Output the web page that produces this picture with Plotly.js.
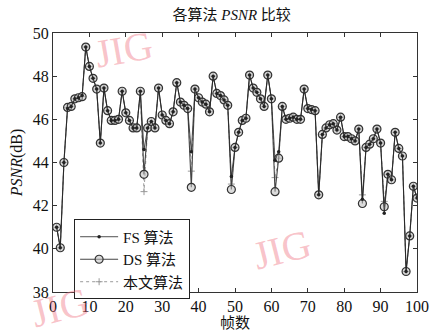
<!DOCTYPE html>
<html>
<head>
<meta charset="utf-8">
<script src="https://cdn.plot.ly/plotly-3.0.1.min.js"></script>
<style>html,body{margin:0;padding:0;background:#fff;}#chart{width:433px;height:335px;}</style>
</head>
<body>
<div id="chart"></div>
<script>
const frames = [1,2,3,4,5,6,7,8,9,10,11,12,13,14,15,16,17,18,19,20,21,22,23,24,25,26,27,28,29,30,31,32,33,34,35,36,37,38,39,40,41,42,43,44,45,46,47,48,49,50,51,52,53,54,55,56,57,58,59,60,61,62,63,64,65,66,67,68,69,70,71,72,73,74,75,76,77,78,79,80,81,82,83,84,85,86,87,88,89,90,91,92,93,94,95,96,97,98,99,100];

const dsPsnr = [41.0,40.05,44.0,46.55,46.6,46.95,47.0,47.05,49.35,48.45,
47.9,47.4,44.9,47.45,46.4,45.95,45.95,46.0,47.3,46.3,
45.95,45.6,45.6,47.3,43.45,45.6,45.9,45.6,47.45,46.2,
45.95,45.8,46.35,47.7,46.8,46.65,46.5,42.85,47.4,47.0,
46.8,46.7,46.35,48.0,47.2,47.1,46.9,46.65,42.75,44.7,
45.4,45.95,46.05,48.05,47.45,47.25,46.95,46.6,48.05,46.95,
42.65,44.2,46.6,46.0,46.05,46.1,46.0,46.0,47.4,46.5,
46.45,46.4,42.5,45.3,45.6,45.75,45.8,45.5,46.1,45.2,
45.2,45.1,45.0,45.55,42.1,44.7,44.85,45.1,45.55,44.9,
41.95,43.45,43.2,45.4,44.65,44.3,38.95,40.6,42.9,42.35];

const fsPsnr = [41.0,40.05,44.0,46.5,46.6,46.95,47.0,47.1,49.35,48.45,
47.9,47.4,44.9,47.45,46.4,45.95,45.95,46.0,47.3,46.3,
45.95,45.6,45.6,47.3,44.6,45.6,45.9,45.6,47.45,46.2,
45.95,45.8,46.35,47.7,46.8,46.65,46.5,44.5,47.4,47.0,
46.8,46.7,46.35,48.0,47.2,47.1,46.9,46.65,43.35,44.7,
45.4,45.95,46.05,48.05,47.45,47.25,46.95,46.6,48.05,46.95,
44.1,44.5,46.6,46.0,46.05,46.1,46.0,46.0,47.4,46.5,
46.45,46.4,42.5,45.3,45.6,45.75,45.8,45.5,46.1,45.2,
45.2,45.1,45.0,45.55,42.3,44.7,44.85,45.1,45.55,44.9,
41.65,43.45,43.2,45.4,44.65,44.3,38.95,40.6,42.9,42.35];

const oursPsnr = [41.0,40.05,44.0,46.55,46.6,46.95,47.0,47.05,49.35,48.45,
47.9,47.4,44.9,47.45,46.4,45.95,45.95,46.0,47.3,46.3,
45.95,45.6,45.6,47.3,42.65,45.6,45.9,45.6,47.45,46.2,
45.95,45.8,46.35,47.7,46.8,46.65,46.5,43.6,47.4,47.0,
46.8,46.7,46.35,48.0,47.2,47.1,46.9,46.65,43.0,44.7,
45.4,45.95,46.05,48.05,47.45,47.25,46.95,46.6,48.05,46.95,
43.3,44.2,46.6,46.0,46.05,46.1,46.0,46.0,47.4,46.5,
46.45,46.4,42.5,45.3,45.6,45.75,45.8,45.5,46.1,45.2,
45.2,45.1,45.0,45.55,42.5,44.7,44.85,45.1,45.55,44.9,
42.2,43.45,43.2,45.4,44.65,44.3,38.95,40.6,42.9,42.35];

const seriesNames = ['FS 算法', 'DS 算法', '本文算法'];
const xTickVals = [0,10,20,30,40,50,60,70,80,90,100];
const yTickVals = [38,40,42,44,46,48,50];

const serif = '"Liberation Serif", "Times New Roman", "Noto Sans CJK SC", serif';

const traces = [
  {
    x: frames, y: oursPsnr, name: seriesNames[2], type: 'scatter', mode: 'lines+markers',
    line: {color: '#9a9a9a', width: 1, dash: 'dot'},
    marker: {symbol: 'cross-thin-open', size: 5, line: {color: '#9a9a9a', width: 1}}
  },
  {
    x: frames, y: dsPsnr, name: seriesNames[1], type: 'scatter', mode: 'lines+markers',
    line: {color: '#444', width: 1.1},
    marker: {symbol: 'circle', size: 8, color: 'rgba(190,190,190,0.55)', line: {color: '#333', width: 1.2}}
  },
  {
    x: frames, y: fsPsnr, name: seriesNames[0], type: 'scatter', mode: 'lines+markers',
    line: {color: '#222', width: 0.8},
    marker: {symbol: 'circle', size: 3.5, color: '#222'}
  }
];

const wm = 'rgba(240,110,125,0.42)';
const layout = {
  width: 433, height: 335,
  margin: {l: 53, r: 16, t: 33, b: 43},
  paper_bgcolor: '#fff', plot_bgcolor: '#fff',
  font: {family: serif, color: '#111', size: 16},
  title: {text: '各算法 <i>PSNR</i> 比较', font: {family: serif, size: 15, color: '#111'}, x: 0.535, xanchor: 'center', y: 0.955, yanchor: 'middle'},
  showlegend: true,
  legend: {
    x: 0.058, y: 0.28, xanchor: 'left', yanchor: 'top',
    bordercolor: '#222', borderwidth: 1, bgcolor: '#fff',
    traceorder: 'reversed', font: {family: serif, size: 15, color: '#111'},
    itemwidth: 38, tracegroupgap: 0
  },
  xaxis: {
    range: [0, 100], tickvals: xTickVals, ticks: 'inside', ticklen: 4, tickcolor: '#333',
    showline: true, linecolor: '#333', linewidth: 1, mirror: 'ticks',
    showgrid: false, zeroline: false,
    tickfont: {family: serif, size: 16, color: '#111'},
    title: {text: '帧数', font: {family: serif, size: 15, color: '#111'}, standoff: 2}
  },
  yaxis: {
    range: [38, 50], tickvals: yTickVals, ticks: 'inside', ticklen: 4, tickcolor: '#333',
    showline: true, linecolor: '#333', linewidth: 1, mirror: 'ticks',
    showgrid: false, zeroline: false,
    tickfont: {family: serif, size: 16, color: '#111'},
    title: {text: '<i>PSNR</i>(dB)', font: {family: serif, size: 16, color: '#111'}, standoff: 6}
  },
  annotations: [
    {text: 'JIG', xref: 'paper', yref: 'paper', x: 0.10, y: 1.05, showarrow: false, textangle: -10,
     font: {family: serif, size: 40, color: wm}},
    {text: 'JIG', xref: 'paper', yref: 'paper', x: 0.63, y: 0.045, showarrow: false, textangle: -14,
     font: {family: serif, size: 40, color: wm}},
    {text: 'JIG', xref: 'paper', yref: 'paper', x: -0.08, y: -0.18, showarrow: false, textangle: -14,
     font: {family: serif, size: 40, color: wm}}
  ]
};

Plotly.newPlot('chart', traces, layout, {staticPlot: true, displayModeBar: false});
</script>
</body>
</html>
